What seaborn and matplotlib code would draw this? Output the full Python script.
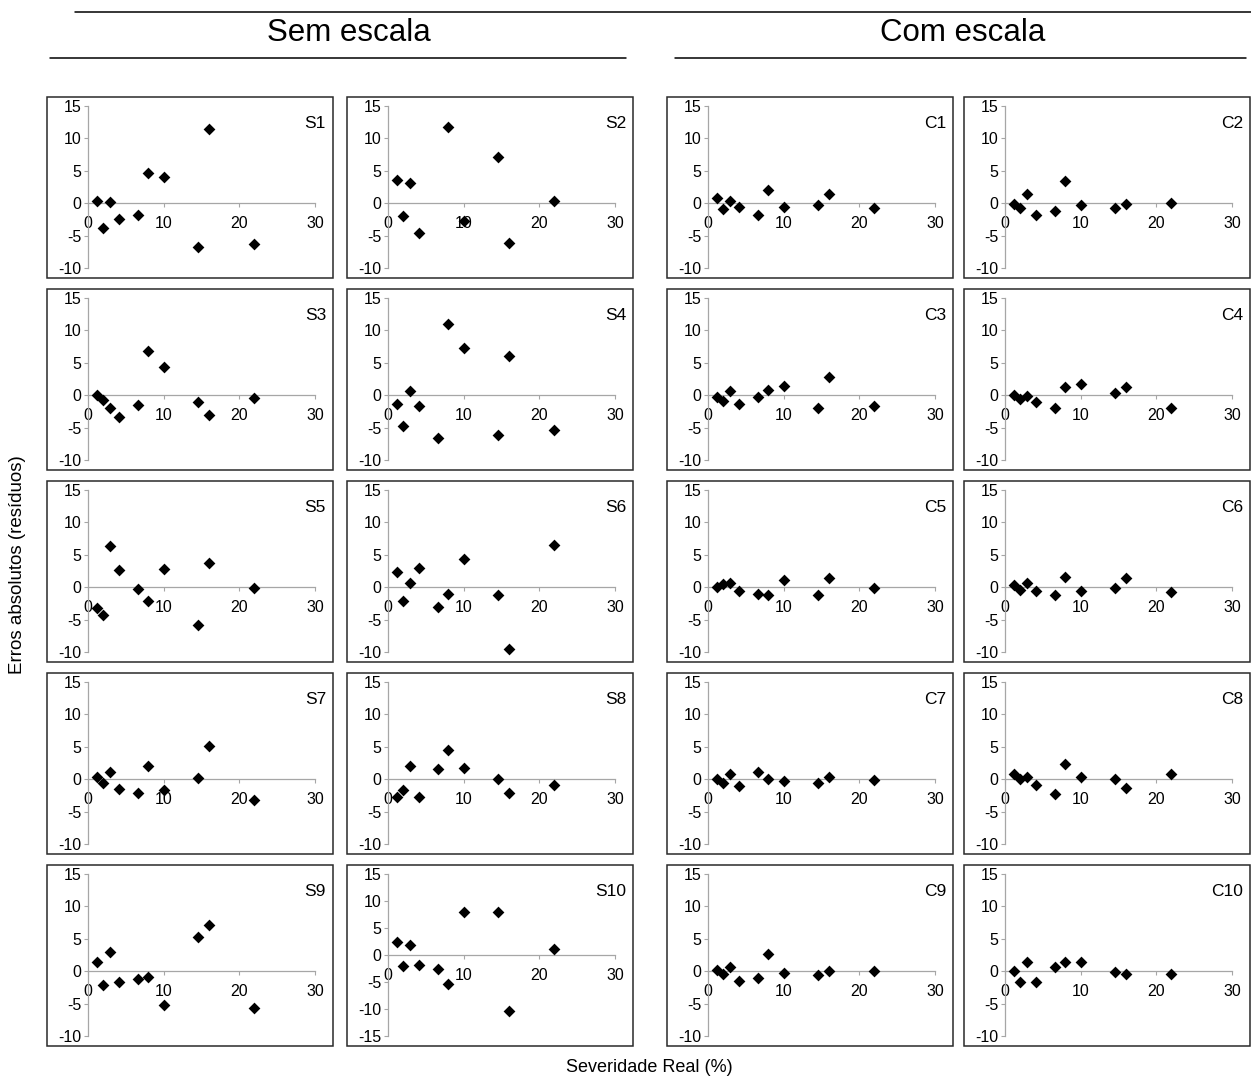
import numpy as np
import matplotlib
matplotlib.use("Agg")
import matplotlib.pyplot as plt
from matplotlib.patches import Rectangle
from matplotlib.lines import Line2D
import seaborn as sns

# ---------------- data ----------------
severidade = [1.2, 2.0, 2.9, 4.1, 6.6, 7.9, 10.0, 14.5, 16.0, 22.0]
nan = np.nan
S1 = [0.3, -3.8, 0.15, -2.4, -1.75, 4.6, 4.1, -6.7, 11.4, -6.3]
S2 = [3.6, -2.0, 3.1, -4.6, nan, 11.75, -2.8, 7.2, -6.2, 0.4]
S3 = [0.1, -0.8, -1.9, -3.4, -1.5, 6.8, 4.4, -1.1, -3.0, -0.4]
S4 = [-1.4, -4.8, 0.6, -1.65, -6.6, 11.0, 7.3, -6.2, 6.1, -5.3]
S5 = [-3.15, -4.3, 6.4, 2.7, -0.3, -2.1, 2.8, -5.9, 3.8, -0.15]
S6 = [2.4, -2.1, 0.7, 2.9, -3.0, -1.05, 4.3, -1.15, -9.5, 6.55]
S7 = [0.35, -0.65, 1.1, -1.55, -2.15, 2.05, -1.65, 0.2, 5.15, -3.15]
S8 = [-2.7, -1.65, 2.05, -2.8, 1.5, 4.5, 1.7, 0.1, -2.1, -0.9]
S9 = [1.35, -2.15, 3.0, -1.65, -1.2, -0.95, -5.15, 5.3, 7.2, -5.65]
S10 = [2.4, -2.0, 1.8, -1.8, -2.6, -5.4, 8.0, 8.0, -10.4, 1.2]
C1 = [0.8, -0.9, 0.4, -0.6, -1.75, 2.1, -0.6, -0.35, 1.4, -0.8]
C2 = [-0.05, -0.8, 1.4, -1.75, -1.2, 3.45, -0.35, -0.8, -0.15, 0.0]
C3 = [-0.3, -0.9, 0.6, -1.35, -0.3, 0.75, 1.35, -2.05, 2.85, -1.65]
C4 = [0.1, -0.55, -0.15, -1.0, -1.9, 1.25, 1.75, 0.4, 1.3, -2.05]
C5 = [0.05, 0.45, 0.6, -0.55, -1.0, -1.15, 1.1, -1.15, 1.45, -0.2]
C6 = [0.3, -0.45, 0.6, -0.55, -1.25, 1.55, -0.55, -0.2, 1.35, -0.8]
C7 = [0.0, -0.55, 0.8, -1.0, 1.1, 0.1, -0.3, -0.55, 0.4, -0.05]
C8 = [0.8, 0.0, 0.3, -0.9, -2.35, 2.3, 0.4, 0.1, -1.4, 0.8]
C9 = [0.25, -0.4, 0.7, -1.55, -1.0, 2.7, -0.3, -0.65, 0.0, 0.1]
C10 = [0.0, -1.7, 1.45, -1.7, 0.7, 1.45, 1.45, -0.1, -0.45, -0.45]

panel_names = ["S1", "S2", "C1", "C2",
               "S3", "S4", "C3", "C4",
               "S5", "S6", "C5", "C6",
               "S7", "S8", "C7", "C8",
               "S9", "S10", "C9", "C10"]
panel_data = [S1, S2, C1, C2, S3, S4, C3, C4, S5, S6, C5, C6,
              S7, S8, C7, C8, S9, S10, C9, C10]
x_ticks = [0, 10, 20, 30]
y_ticks_default = [-10, -5, 0, 5, 10, 15]
y_ticks_s10 = [-15, -10, -5, 0, 5, 10, 15]

# ---------------- style ----------------
sns.set_style("white")
plt.rcParams["font.family"] = ["Liberation Sans", "DejaVu Sans"]
plt.rcParams["text.color"] = "black"
plt.rcParams["xtick.color"] = "black"
plt.rcParams["ytick.color"] = "black"
plt.rcParams["axes.unicode_minus"] = False

W, H = 1251, 1084
fig = plt.figure(figsize=(W / 100, H / 100), dpi=100)


def fx(px):
    return px / W


def fy(py):
    return 1 - py / H


col_left = [47, 347, 667, 964]
row_top = [97, 289, 481, 673, 865]
fw, fh = 286, 181
in_l, in_r, in_t, in_b = 41, 18, 9, 10
axis_gray = "#a6a6a6"

for i, (name, vals) in enumerate(zip(panel_names, panel_data)):
    r, c = divmod(i, 4)
    L, T = col_left[c], row_top[r]
    # outer frame
    fig.patches.append(Rectangle((fx(L), fy(T + fh)), fw / W, fh / H,
                                 transform=fig.transFigure, fill=False,
                                 edgecolor="#2a2a2a", linewidth=1.1))
    ax = fig.add_axes([fx(L + in_l), fy(T + fh - in_b),
                       (fw - in_l - in_r) / W, (fh - in_t - in_b) / H])
    ax.patch.set_alpha(0)
    sns.scatterplot(x=severidade, y=vals, ax=ax, marker="D", color="black",
                    s=36, linewidth=0, zorder=4, clip_on=False, legend=False)
    ax.set_xlim(0, 30)
    if name == "S10":
        ax.set_ylim(-15, 15)
        ax.set_yticks(y_ticks_s10)
    else:
        ax.set_ylim(-10, 15)
        ax.set_yticks(y_ticks_default)
    ax.set_xticks(x_ticks)
    ax.spines["top"].set_visible(False)
    ax.spines["right"].set_visible(False)
    ax.spines["bottom"].set_position(("data", 0))
    for sp in ("left", "bottom"):
        ax.spines[sp].set_color(axis_gray)
        ax.spines[sp].set_linewidth(0.9)
    ax.tick_params(axis="x", direction="out", length=3, width=0.8,
                   color=axis_gray, labelcolor="black", labelsize=11.5,
                   pad=6, bottom=True)
    ax.tick_params(axis="y", direction="out", length=3, width=0.8,
                   color=axis_gray, labelcolor="black", labelsize=11.5,
                   pad=2, left=True)
    ax.set_xlabel("")
    ax.set_ylabel("")
    ax.text(1.0 + (in_r - 7) / (fw - in_l - in_r), 1.0 - (26 - in_t) / (fh - in_t - in_b),
            name, transform=ax.transAxes, ha="right", va="center",
            fontsize=12.5, color="black")

# headers
fig.add_artist(Line2D([fx(75), fx(1251)], [fy(12), fy(12)], color="black", lw=1.1,
                      transform=fig.transFigure))
fig.add_artist(Line2D([fx(50), fx(626)], [fy(58), fy(58)], color="black", lw=1.1,
                      transform=fig.transFigure))
fig.add_artist(Line2D([fx(675), fx(1246)], [fy(58), fy(58)], color="black", lw=1.1,
                      transform=fig.transFigure))
fig.text(fx(349), fy(33), "Sem escala", ha="center", va="center", fontsize=22.5,
         color="black")
fig.text(fx(963), fy(33), "Com escala", ha="center", va="center", fontsize=22.5,
         color="black")

fig.text(fx(649), fy(1068), "Severidade Real (%)", ha="center", va="center",
         fontsize=13, color="black")
fig.text(fx(18), fy(565), "Erros absolutos (resíduos)", ha="center", va="center",
         rotation=90, fontsize=13.5, color="black")

fig.savefig("out.png", dpi=100)
